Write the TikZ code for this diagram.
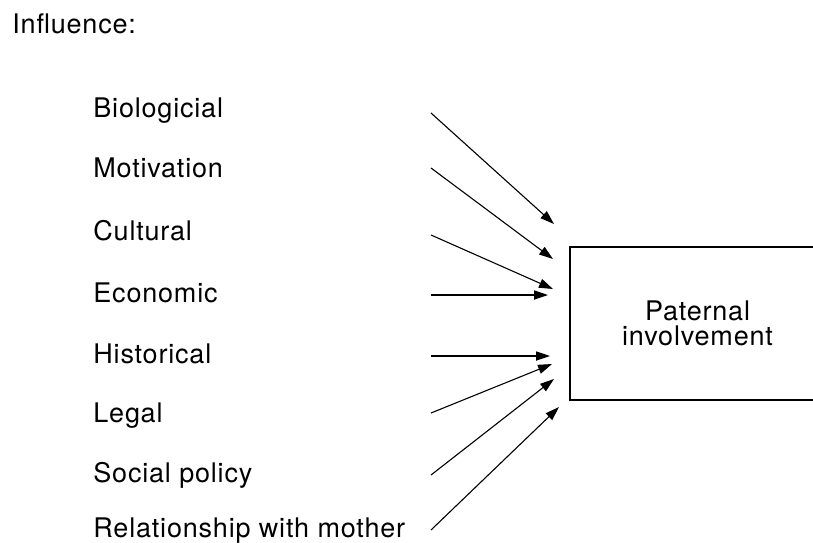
\documentclass[tikz,border=0pt]{standalone}
\usepackage{fontspec}
\setmainfont[LetterSpace=3]{TeX Gyre Heros}
\usetikzlibrary{arrows.meta,positioning}

\tikzset{
  factor/.style={anchor=base west, inner sep=0pt, font=\fontsize{13.5}{16}\selectfont},
  influence/.style={-{Triangle[length=7pt,width=4.6pt]}, line width=0.55pt},
  outcome/.style={draw, line width=0.6pt, minimum width=127.5pt, minimum height=76.5pt,
    align=center, inner sep=0pt, font=\fontsize{13.5}{12.5}\selectfont}
}

\begin{document}
\begin{tikzpicture}[x=0.5pt,y=-0.5pt]
\useasboundingbox (0,0) rectangle (813,542);
\node[factor] (title) at (12,33) {Influence:};

% factors: number/label/baseline/start y/tip x/tip y
\foreach \n/\txt/\b/\s/\tx/\ty in {1/Biologicial/117/113/554/224,
    2/Motivation/177/168/553/259, 3/Cultural/240/235/553/289,
    4/Economic/302/295/548/295, 5/Historical/363/356/550/356,
    6/Legal/422/413/552/364, 7/Social policy/482/475/554/379,
    8/Relationship with mother/537/530/559/407} {
  \node[factor] (f\n) at (93,\b) {\txt};
  \coordinate (s\n) at (431,\s);
  \coordinate (t\n) at (\tx,\ty);
  \draw[influence] (s\n) -- (t\n);
}

% outcome box, runs off the right edge
\node[outcome] (pi) at (697.5,323.5) {Paternal\\involvement};
\end{tikzpicture}
\end{document}
